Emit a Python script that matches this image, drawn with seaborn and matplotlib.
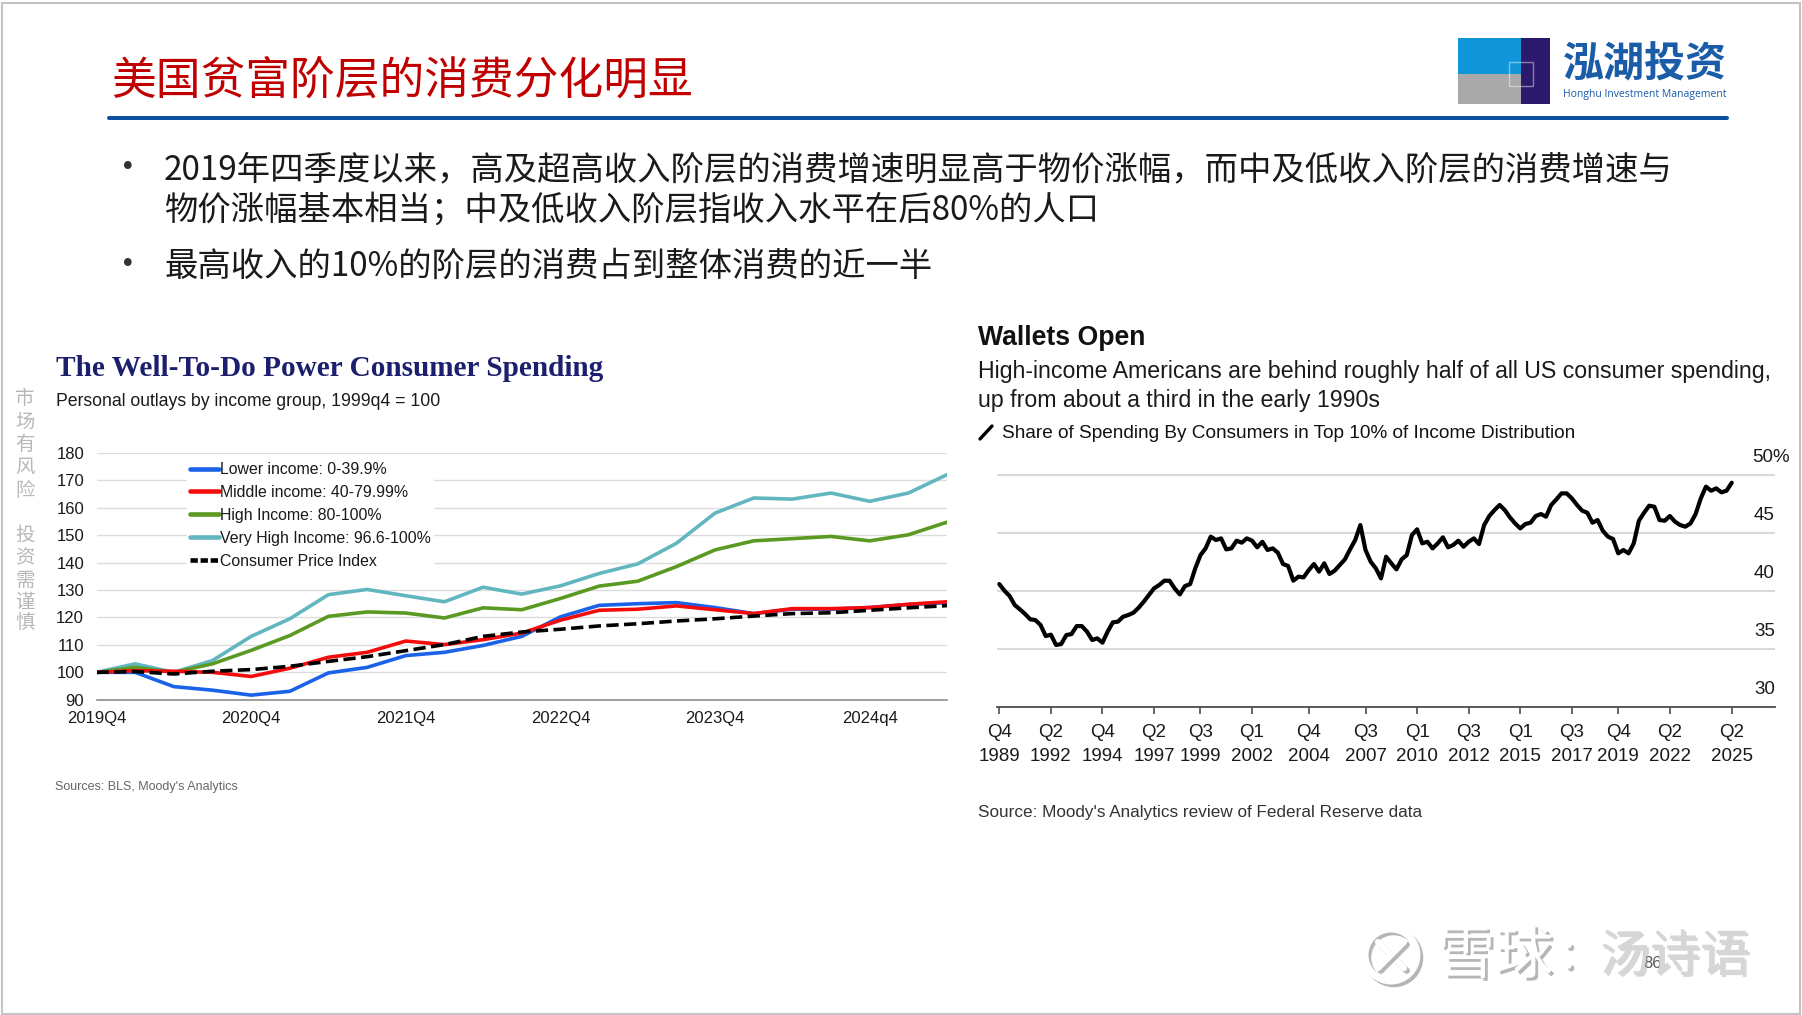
import numpy as np
import pandas as pd
import matplotlib
matplotlib.use('Agg')
import matplotlib.pyplot as plt
import seaborn as sns
from matplotlib.patches import Rectangle, Circle
from matplotlib.lines import Line2D
import matplotlib.patheffects as pe
import matplotlib.transforms as mtrans

# ---------------- data ----------------
left_quarters = ['2019Q4', '2020Q1', '2020Q2', '2020Q3', '2020Q4', '2021Q1', '2021Q2', '2021Q3',
                 '2021Q4', '2022Q1', '2022Q2', '2022Q3', '2022Q4', '2023Q1', '2023Q2', '2023Q3',
                 '2023Q4', '2024Q1', '2024Q2', '2024Q3', '2024Q4', '2025Q1', '2025Q2']
left_tick_labels = ['2019Q4', '2020Q4', '2021Q4', '2022Q4', '2023Q4', '2024q4']
left_tick_quarters = ['2019Q4', '2020Q4', '2021Q4', '2022Q4', '2023Q4', '2024Q4']

lower_income = [100, 100, 94.8, 93.5, 91.7, 93.1, 99.8, 101.8, 106.1, 107.3, 109.8, 113.1,
                120.2, 124.4, 125.0, 125.4, 123.6, 121.4, 123.0, 123.0, 123.6, 124.7, 125.4]
middle_income = [100, 100.6, 100.4, 100, 98.5, 101.5, 105.5, 107.3, 111.4, 110.1, 111.9, 114.3,
                 119.0, 122.6, 123.0, 124.2, 122.8, 121.4, 123.2, 123.2, 123.6, 124.8, 125.7]
high_income = [100, 101.8, 100, 103.1, 108.0, 113.4, 120.4, 122.0, 121.6, 119.8, 123.5, 122.8,
               126.9, 131.4, 133.2, 138.5, 144.6, 147.9, 148.7, 149.5, 147.9, 150.1, 154.7]
very_high_income = [100, 103.1, 100, 104.3, 113.1, 119.5, 128.3, 130.2, 127.9, 125.7, 131.0, 128.5,
                    131.5, 136.0, 139.5, 147.0, 158.0, 163.5, 163.1, 165.3, 162.3, 165.3, 172.0]
cpi = [100, 100.3, 99.4, 100.4, 101.0, 102.2, 104.0, 105.7, 107.9, 110.1, 113.1, 114.7,
       115.7, 116.9, 117.7, 118.7, 119.5, 120.5, 121.4, 121.7, 122.6, 123.5, 124.3]

left_series_names = ['Lower income: 0-39.9%', 'Middle income: 40-79.99%', 'High Income: 80-100%',
                     'Very High Income: 96.6-100%', 'Consumer Price Index']
left_yticks = [90, 100, 110, 120, 130, 140, 150, 160, 170, 180]

# right chart: quarterly, Q4 1989 .. Q2 2025
right_start = (1989, 4)
top10_share = [40.57, 40.0, 39.54, 38.76, 38.39, 37.99, 37.53, 37.47, 37.04, 36.09,
               36.21, 35.32, 35.40, 36.18, 36.26, 36.95, 36.95, 36.47, 35.75, 35.89,
               35.52, 36.47, 37.27, 37.33, 37.76, 37.90, 38.10, 38.53, 39.05, 39.63,
               40.20, 40.49, 40.86, 40.86, 40.20, 39.68, 40.40, 40.57, 41.93, 43.07,
               43.65, 44.66, 44.37, 44.51, 43.56, 43.65, 44.31, 44.14, 44.51, 44.31,
               43.74, 44.22, 43.51, 43.65, 43.28, 42.30, 42.13, 40.86, 41.21, 41.15,
               41.78, 42.30, 41.64, 42.36, 41.44, 41.72, 42.21, 42.70, 43.56, 44.37,
               45.66, 43.51, 42.50, 41.93, 41.06, 42.93, 42.36, 41.84, 42.70, 43.07,
               44.80, 45.29, 44.08, 44.22, 43.65, 44.08, 44.60, 43.74, 43.94, 44.31,
               43.79, 44.22, 44.51, 44.02, 45.66, 46.44, 46.95, 47.39, 46.95, 46.32,
               45.80, 45.37, 45.75, 45.86, 46.44, 46.61, 46.38, 47.39, 47.87, 48.39,
               48.39, 47.96, 47.39, 46.90, 46.72, 45.86, 46.09, 45.17, 44.66, 44.45,
               43.22, 43.51, 43.22, 44.08, 46.03, 46.72, 47.33, 47.24, 46.09, 46.03,
               46.44, 45.95, 45.66, 45.52, 45.80, 46.61, 47.96, 48.97, 48.62, 48.82,
               48.48, 48.62, 49.31]
right_tick_quarters = [(1989, 4), (1992, 2), (1994, 4), (1997, 2), (1999, 3), (2002, 1), (2004, 4),
                       (2007, 3), (2010, 1), (2012, 3), (2015, 1), (2017, 3), (2019, 4), (2022, 2),
                       (2025, 2)]
right_yticks = [30, 35, 40, 45, 50]
right_ytick_labels = ['30', '35', '40', '45', '50%']

# ---------------- figure ----------------
sns.set_theme(style='white')
plt.rcParams['font.family'] = ['Liberation Sans', 'Noto Sans CJK SC', 'DejaVu Sans']
CJK = ['Noto Sans CJK SC', 'DejaVu Sans']

W, H = 1802, 1015
fig = plt.figure(figsize=(W / 100, H / 100), dpi=100)
fig.patch.set_facecolor('white')
renderer = fig.canvas.get_renderer()


def box(x0, y0, x1, y1):
    return [x0 / W, 1 - y1 / H, (x1 - x0) / W, (y1 - y0) / H]


def ftext(x, y, s, width=None, size=12, ha='left', va='center', **kw):
    t = fig.text(x / W, 1 - y / H, s, fontsize=size, ha=ha, va=va, **kw)
    if width:
        w = t.get_window_extent(renderer=renderer).width
        t.set_fontsize(size * width / w)
    return t


# frame
fig.add_artist(Rectangle((1.5, 1.5), W - 4, H - 4, transform=mtrans.IdentityTransform(),
                         fill=False, edgecolor='#c4c4c4', lw=1.5))

# header
ftext(111, 81, '美国贫富阶层的消费分化明显', width=581, size=30, color='#c00000', family=CJK)
fig.add_artist(Line2D([109 / W, 1727 / W], [1 - 117.7 / H, 1 - 117.7 / H], transform=fig.transFigure,
                      color='#0b4f9f', lw=2.9))

# logo
for (x0, y0, x1, y1, c) in [(1458, 38, 1521, 74, '#0f95d8'), (1458, 74, 1521, 104, '#a9a9a9'),
                            (1521, 38, 1550, 104, '#2b1a6b')]:
    fig.add_artist(Rectangle((x0 / W, 1 - y1 / H), (x1 - x0) / W, (y1 - y0) / H,
                             transform=fig.transFigure, facecolor=c, edgecolor='none'))
fig.add_artist(Rectangle((1509 / W, 1 - 86 / H), 24 / W, 24 / H, transform=fig.transFigure,
                         facecolor='none', edgecolor='white', alpha=0.45, lw=1))
ftext(1563, 64, '泓湖投资', width=164, size=26, color='#1a5ca8', family=CJK, fontweight='bold')
ftext(1563, 94, 'Honghu Investment Management', width=164, size=9, color='#1a5ca8',
      family=['Open Sans', 'DejaVu Sans'])

# bullets
b1 = ftext(164, 170, '2019年四季度以来，高及超高收入阶层的消费增速明显高于物价涨幅，而中及低收入阶层的消费增速与',
           width=1547, size=24, color='#1a1a1a', family=CJK)
bs = b1.get_fontsize() * 0.975
b1.set_fontsize(bs)
ftext(164, 210, '物价涨幅基本相当；中及低收入阶层指收入水平在后80%的人口', size=bs, color='#1a1a1a', family=CJK)
ftext(164, 266, '最高收入的10%的阶层的消费占到整体消费的近一半', size=bs, color='#1a1a1a', family=CJK)
for yb in (168, 265):
    ftext(128, yb, '•', size=19, ha='center', color='#333333', family=['DejaVu Sans'])

# vertical disclaimer
disc_chars = list('市场有风险') + list('投资需谨慎')
disc_y = [398, 422, 445, 467, 490, 535, 558, 580, 602, 623]
for ch, yy in zip(disc_chars, disc_y):
    ftext(25, yy, ch, size=14, ha='center', color='#b8b8b8', family=CJK)

# ---------------- left chart ----------------
ftext(56, 368, 'The Well-To-Do Power Consumer Spending', width=546, size=20,
      family=['Liberation Serif'], fontweight='bold', color='#1b1f6e')
ftext(56, 402, 'Personal outlays by income group, 1999q4 = 100', width=386, size=12, color='#1a1a1a')
ftext(55, 787, "Sources: BLS, Moody's Analytics", width=182, size=8.5, color='#666666')

axL = fig.add_axes(box(96.5, 452.7, 947, 699.8))
idx = np.arange(len(left_quarters))
df_left = pd.DataFrame({'idx': idx,
                        left_series_names[0]: lower_income,
                        left_series_names[1]: middle_income,
                        left_series_names[2]: high_income,
                        left_series_names[3]: very_high_income,
                        left_series_names[4]: cpi})
long_left = df_left.melt(id_vars='idx', var_name='series', value_name='value')
colors = {left_series_names[0]: '#1a62e8', left_series_names[1]: '#f40c0c',
          left_series_names[2]: '#5b9a22', left_series_names[3]: '#62b6c0',
          left_series_names[4]: '#000000'}
draw_order = [3, 2, 0, 1, 4]
for k in draw_order:
    name = left_series_names[k]
    sub = long_left[long_left['series'] == name]
    ls = (0, (3.4, 1.5)) if k == 4 else '-'
    sns.lineplot(data=sub, x='idx', y='value', ax=axL, color=colors[name], lw=2.6,
                 linestyle=ls, legend=False, zorder=3 + draw_order.index(k))
for l in axL.lines:
    l.set_solid_joinstyle('round')
    l.set_dash_capstyle('butt')

axL.set_xlim(0, len(left_quarters) - 1)
axL.set_ylim(90, 180)
axL.set_yticks(left_yticks)
axL.set_yticklabels([str(v) for v in left_yticks])
axL.set_xticks([left_quarters.index(q) for q in left_tick_quarters])
axL.set_xticklabels(left_tick_labels)
axL.set_xlabel('')
axL.set_ylabel('')
axL.tick_params(axis='both', length=0, labelsize=12, colors='#1a1a1a')
axL.tick_params(axis='y', pad=9)
axL.tick_params(axis='x', pad=8)
axL.grid(axis='y', color='#dcdcdc', lw=1.0)
axL.grid(axis='x', visible=False)
for s in ['top', 'right', 'left']:
    axL.spines[s].set_visible(False)
axL.spines['bottom'].set_color('#8c8c8c')
axL.spines['bottom'].set_linewidth(1.2)
axL.set_facecolor('none')

handles = []
for k in range(5):
    name = left_series_names[k]
    ls = (0, (1.6, 0.6)) if k == 4 else '-'
    handles.append(Line2D([], [], color=colors[name], lw=3.3, linestyle=ls))
leg = axL.legend(handles, left_series_names, loc='upper left',
                 bbox_to_anchor=(179 / W, 1 - 451 / H), bbox_transform=fig.transFigure,
                 fontsize=11.4, frameon=True, facecolor='white', edgecolor='none', framealpha=1,
                 borderpad=0.2, handlelength=1.8, handletextpad=0.1, labelspacing=0.5,
                 fancybox=False)
for t in leg.get_texts():
    t.set_color('#1a1a1a')
leg.set_zorder(20)

# ---------------- right chart ----------------
ftext(978, 338, 'Wallets Open', width=168, size=17, fontweight='bold', color='#111111')
r1 = ftext(978, 371, 'High-income Americans are behind roughly half of all US consumer spending,',
           width=797, size=15, color='#1a1a1a')
ftext(978, 400, 'up from about a third in the early 1990s', size=r1.get_fontsize(), color='#1a1a1a')
ftext(1002, 433, 'Share of Spending By Consumers in Top 10% of Income Distribution', width=578,
      size=12.5, color='#111111')
fig.add_artist(Line2D([980 / W, 992 / W], [1 - 439 / H, 1 - 426 / H], transform=fig.transFigure,
                      color='black', lw=2.4, solid_capstyle='round'))
ftext(978, 812, "Source: Moody's Analytics review of Federal Reserve data", width=440, size=11,
      color='#333333')

ymax = 51.5
top_px = 706.7 - (ymax - 30) * 11.6
axR = fig.add_axes(box(997, top_px, 1775, 706.7))


def qidx(y, q):
    return (y - right_start[0]) * 4 + (q - right_start[1])


ridx = np.arange(len(top10_share))
df_right = pd.DataFrame({'idx': ridx, 'share': top10_share})
sns.lineplot(data=df_right, x='idx', y='share', ax=axR, color='black', lw=3.0, legend=False)
axR.lines[0].set_solid_joinstyle('round')
axR.lines[0].set_solid_capstyle('round')
axR.set_xlim(-(999.3 - 997) / 5.158, (1775 - 999.3) / 5.158)
axR.set_ylim(30, ymax)
axR.set_yticks(right_yticks)
axR.set_yticklabels([])
axR.set_xticks([qidx(y, q) for (y, q) in right_tick_quarters])
axR.set_xticklabels([f'Q{q}\n{y}' for (y, q) in right_tick_quarters], linespacing=1.5)
axR.set_xlabel('')
axR.set_ylabel('')
axR.tick_params(axis='y', length=0, labelleft=False, labelright=False)
axR.tick_params(axis='x', direction='out', length=5, width=1.2, color='#4d4d4d', pad=7.5,
                labelsize=13.5, labelcolor='#1a1a1a', bottom=True)
axR.grid(axis='y', color='#d9d9d9', lw=1.5)
axR.grid(axis='x', visible=False)
for s in ['top', 'right', 'left']:
    axR.spines[s].set_visible(False)
axR.spines['bottom'].set_color('#4d4d4d')
axR.spines['bottom'].set_linewidth(1.3)
axR.set_facecolor('none')
ytr = mtrans.offset_copy(axR.get_yaxis_transform(), fig=fig, x=0, y=17, units='dots')
for v, lab in zip(right_yticks, right_ytick_labels):
    if lab.endswith('%'):
        axR.text((1752 - 997) / 778, v, lab, transform=ytr, ha='left', va='center', fontsize=13.5,
                 color='#1a1a1a')
    else:
        axR.text(1.0, v, lab, transform=ytr, ha='right', va='center', fontsize=13.5, color='#1a1a1a')
for t in axR.get_xticklabels():
    t.set_color('#1a1a1a')

# ---------------- page number & watermark ----------------
ftext(1643, 963, '86', size=12, color='#595959')
shadow_t = [pe.withSimplePatchShadow(offset=(2, -2), shadow_rgbFace='#7a7a7a', alpha=0.55)]
ftext(1437, 957, '雪球', width=116, size=38, color='white', family=CJK, path_effects=shadow_t, zorder=30)
ftext(1558, 957, '：', size=30, color='white', family=CJK, path_effects=shadow_t, zorder=30)
ftext(1600, 957, '汤诗语', width=150, size=36, color='#d6d6d6', family=CJK,
      path_effects=[pe.withSimplePatchShadow(offset=(1.5, -1.5), shadow_rgbFace='#9a9a9a', alpha=0.4)],
      zorder=30)
shadow_l = [pe.SimpleLineShadow(offset=(2, -2), shadow_color='#7a7a7a', alpha=0.55), pe.Normal()]
fig.add_artist(Circle((1391, H - 955), 26, transform=mtrans.IdentityTransform(), fill=False,
                      edgecolor='white', lw=5, path_effects=shadow_l, zorder=30))
for (xa, ya, xb, yb) in [(1378, 942, 1404, 968), (1404, 942, 1378, 968)]:
    fig.add_artist(Line2D([xa, xb], [H - ya, H - yb], transform=mtrans.IdentityTransform(),
                          color='white', lw=4.5, path_effects=shadow_l, zorder=30))

fig.savefig('out.png', dpi=100, facecolor='white')
